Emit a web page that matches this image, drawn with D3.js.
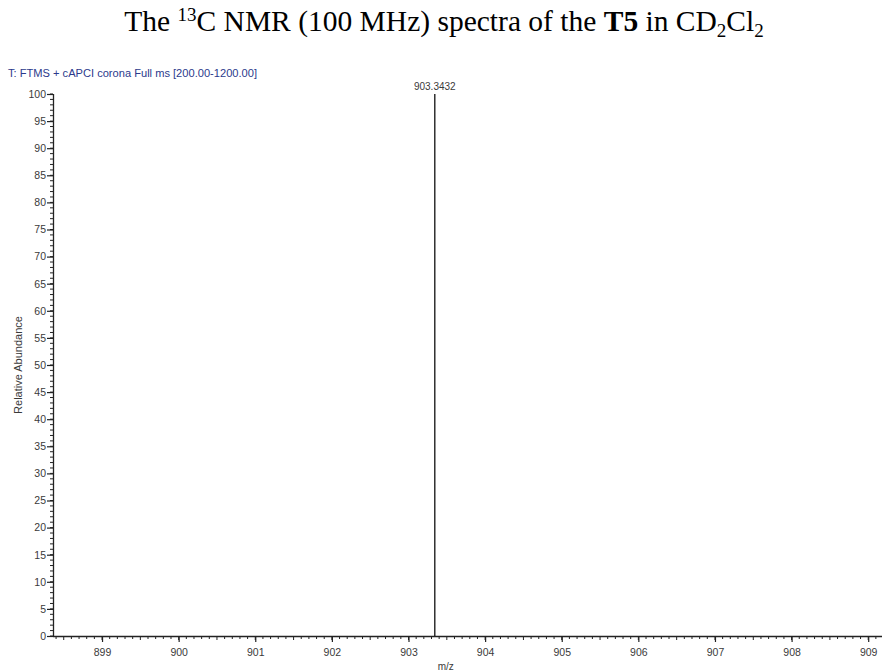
<!DOCTYPE html>
<html>
<head>
<meta charset="utf-8">
<script src="https://cdn.jsdelivr.net/npm/d3@7"></script>
<style>
  html, body { margin: 0; padding: 0; background: #fff; }
  svg { display: block; }
</style>
</head>
<body>
<svg id="chart" width="882" height="672"></svg>
<script>
// Mass spectrum data
const peakMz = [903.3432];
const peakAbundance = [100];
const peakLabels = ["903.3432"];
const xTickValues = [899, 900, 901, 902, 903, 904, 905, 906, 907, 908, 909];
const yTickValues = [0, 5, 10, 15, 20, 25, 30, 35, 40, 45, 50, 55, 60, 65, 70, 75, 80, 85, 90, 95, 100];
const scanHeader = "T: FTMS + cAPCI corona Full ms [200.00-1200.00]";

const svg = d3.select("#chart");
const W = 882, H = 672;
const plotLeft = 53, plotRight = 882, plotTop = 94, plotBottom = 636;

const x = d3.scaleLinear().domain([898.36, 909.18]).range([plotLeft, plotRight]);
const y = d3.scaleLinear().domain([0, 100]).range([plotBottom, plotTop]);

const axisColor = "#222";
const textColor = "#3a3a3a";
const tickFont = "Liberation Sans, Arial, sans-serif";

// Title with superscript / subscripts
const title = svg.append("text")
  .attr("x", W / 2 + 3)
  .attr("y", 31)
  .attr("text-anchor", "middle")
  .attr("font-family", "Liberation Serif, Times New Roman, serif")
  .attr("font-size", 29.5)
  .attr("fill", "#000");
title.append("tspan").text("The ");
title.append("tspan").attr("font-size", 19).attr("dy", -10).text("13");
title.append("tspan").attr("dy", 10).text("C NMR (100 MHz) spectra of the ");
title.append("tspan").attr("font-weight", "bold").text("T5");
title.append("tspan").text(" in CD");
title.append("tspan").attr("font-size", 19).attr("dy", 6).text("2");
title.append("tspan").attr("dy", -6).text("Cl");
title.append("tspan").attr("font-size", 19).attr("dy", 6).text("2");

// Scan header
svg.append("text")
  .attr("x", 8)
  .attr("y", 77)
  .attr("font-family", tickFont)
  .attr("font-size", 10)
  .attr("fill", "#2b3a8c")
  .attr("textLength", 249)
  .attr("lengthAdjust", "spacingAndGlyphs")
  .text(scanHeader);

// Minor ticks
const g = svg.append("g");
const xMinor = d3.range(8984, 9092).map(v => v / 10).filter(v => x(v) <= plotRight);
g.selectAll(".xminor").data(xMinor).join("line")
  .attr("x1", d => x(d)).attr("x2", d => x(d))
  .attr("y1", plotBottom).attr("y2", d => plotBottom + (Math.abs(Math.round(d * 10) % 5) === 0 ? 4 : 3))
  .attr("stroke", axisColor).attr("stroke-width", 1);

const yMinor = d3.range(0, 101);
g.selectAll(".yminor").data(yMinor).join("line")
  .attr("x1", plotLeft - 3).attr("x2", plotLeft)
  .attr("y1", d => y(d)).attr("y2", d => y(d))
  .attr("stroke", axisColor).attr("stroke-width", 1);

// Axes
const xAxis = d3.axisBottom(x).tickValues(xTickValues).tickSize(6).tickPadding(7).tickFormat(d3.format("d"));
const yAxis = d3.axisLeft(y).tickValues(yTickValues).tickSize(6).tickPadding(1).tickFormat(d3.format("d"));

const gx = svg.append("g").attr("transform", `translate(0,${plotBottom})`).call(xAxis);
gx.select(".domain").attr("d", `M${plotLeft},0.5H${plotRight}`).attr("stroke", axisColor).attr("stroke-width", 1.3);
gx.selectAll(".tick line").attr("stroke", axisColor).attr("stroke-width", 1.2);
gx.selectAll(".tick text").attr("font-family", tickFont).attr("font-size", 10.5).attr("fill", textColor);

const gy = svg.append("g").attr("transform", `translate(${plotLeft},0)`).call(yAxis);
gy.select(".domain").attr("d", `M0.5,${plotTop}V${plotBottom}`).attr("stroke", axisColor).attr("stroke-width", 1.3);
gy.selectAll(".tick line").attr("stroke", axisColor).attr("stroke-width", 1.2);
gy.selectAll(".tick text").attr("font-family", tickFont).attr("font-size", 10.5).attr("fill", textColor);

// Axis titles
svg.append("text")
  .attr("x", (x(903) + x(904)) / 2 - 1)
  .attr("y", 670)
  .attr("text-anchor", "middle")
  .attr("font-family", tickFont).attr("font-size", 10).attr("fill", textColor)
  .text("m/z");

svg.append("text")
  .attr("transform", `translate(22,${(plotTop + plotBottom) / 2}) rotate(-90)`)
  .attr("text-anchor", "middle")
  .attr("font-family", tickFont).attr("font-size", 11).attr("fill", textColor)
  .text("Relative Abundance");

// Peaks (stick spectrum)
const peaks = peakMz.map((m, i) => ({ mz: m, ab: peakAbundance[i], label: peakLabels[i] }));
svg.selectAll(".peak").data(peaks).join("line")
  .attr("x1", d => x(d.mz)).attr("x2", d => x(d.mz))
  .attr("y1", y(0)).attr("y2", d => y(d.ab))
  .attr("stroke", "#111").attr("stroke-width", 1.3);

svg.selectAll(".plabel").data(peaks).join("text")
  .attr("x", d => x(d.mz))
  .attr("y", d => y(d.ab) - 4)
  .attr("text-anchor", "middle")
  .attr("font-family", tickFont).attr("font-size", 10).attr("fill", textColor)
  .text(d => d.label);
</script>
</body>
</html>
